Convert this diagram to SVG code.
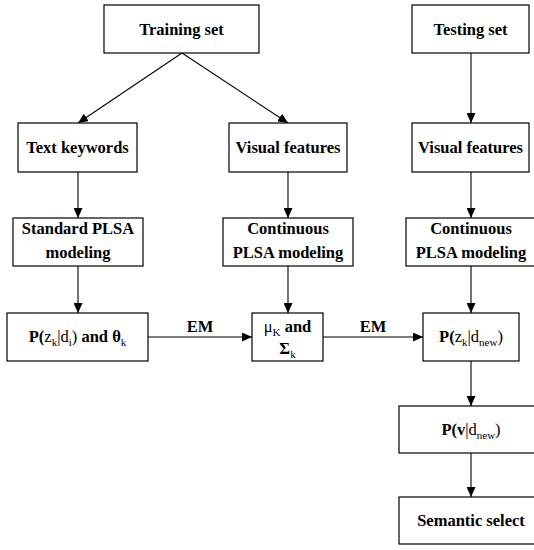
<svg xmlns="http://www.w3.org/2000/svg" width="534" height="550" viewBox="0 0 534 550">
<style>
.box{fill:#fff;stroke:#000;stroke-width:1.2}
.t{font-family:'Liberation Serif','Times New Roman','DejaVu Serif',serif;font-size:16.5px;font-weight:bold;text-anchor:middle;fill:#000}
.r{font-weight:normal}
.s{font-weight:normal;font-size:11px}
.c{stroke:#000;stroke-width:1.1;fill:none;marker-end:url(#ah)}
</style>
<defs>
<marker id="ah" markerUnits="userSpaceOnUse" markerWidth="10" markerHeight="9" refX="10" refY="4.5" orient="auto">
<path d="M0,0 L10,4.5 L0,9 z" fill="#000"/>
</marker>
</defs>
<rect width="534" height="550" fill="#fff"/>
<g id="connectors">
<line class="c" x1="182" y1="53" x2="78" y2="123"/>
<line class="c" x1="182" y1="53" x2="288" y2="123"/>
<line class="c" x1="471" y1="53" x2="471" y2="123"/>
<line class="c" x1="78" y1="172" x2="78" y2="218"/>
<line class="c" x1="288" y1="172" x2="288" y2="218"/>
<line class="c" x1="471" y1="172" x2="471" y2="218"/>
<line class="c" x1="78" y1="266" x2="78" y2="313"/>
<line class="c" x1="288" y1="266" x2="288" y2="313"/>
<line class="c" x1="471" y1="266" x2="471" y2="313"/>
<line class="c" x1="148" y1="337" x2="252" y2="337"/>
<line class="c" x1="323" y1="337" x2="423" y2="337"/>
<line class="c" x1="471" y1="361" x2="471" y2="406"/>
<line class="c" x1="471" y1="453" x2="471" y2="497"/>
<text class="t" x="200" y="332">EM</text>
<text class="t" x="373" y="332">EM</text>
</g>
<g id="training">
<rect class="box" x="104" y="5" width="155" height="48"/>
<text class="t" x="181.5" y="35">Training set</text>
</g>
<g id="testing">
<rect class="box" x="412" y="5" width="117" height="48"/>
<text class="t" x="470.5" y="35">Testing set</text>
</g>
<g id="textkw">
<rect class="box" x="18" y="123" width="119" height="49"/>
<text class="t" x="77.5" y="153">Text keywords</text>
</g>
<g id="visual1">
<rect class="box" x="229" y="123" width="118" height="49"/>
<text class="t" x="288" y="153">Visual features</text>
</g>
<g id="visual2">
<rect class="box" x="412" y="123" width="117" height="49"/>
<text class="t" x="470.5" y="153">Visual features</text>
</g>
<g id="stdplsa">
<rect class="box" x="13" y="218" width="130" height="48"/>
<text class="t" x="78" y="234">Standard PLSA</text>
<text class="t" x="78" y="258">modeling</text>
</g>
<g id="cont1">
<rect class="box" x="223" y="218" width="130" height="48"/>
<text class="t" x="288" y="234">Continuous</text>
<text class="t" x="288" y="258">PLSA modeling</text>
</g>
<g id="cont2">
<rect class="box" x="406" y="218" width="130" height="48"/>
<text class="t" x="471" y="234">Continuous</text>
<text class="t" x="471" y="258">PLSA modeling</text>
</g>
<g id="pzd">
<rect class="box" x="7" y="313" width="141" height="48"/>
<text class="t" x="77.5" y="342">P(<tspan class="r">z</tspan><tspan class="s" dy="4">k</tspan><tspan class="r" dy="-4">|d</tspan><tspan class="s" dy="4">i</tspan><tspan class="r" dy="-4">)</tspan> and θ<tspan class="s" dy="4">k</tspan></text>
</g>
<g id="musigma">
<rect class="box" x="252" y="313" width="71" height="48"/>
<text class="t" x="287.5" y="332"><tspan class="r">μ</tspan><tspan class="s" dy="4">K</tspan><tspan dy="-4"> and</tspan></text>
<text class="t" x="287.5" y="354">Σ<tspan class="s" dy="4">k</tspan></text>
</g>
<g id="pzdnew">
<rect class="box" x="423" y="313" width="96" height="48"/>
<text class="t" x="471" y="342">P(<tspan class="r">z</tspan><tspan class="s" dy="4">k</tspan><tspan class="r" dy="-4">|d</tspan><tspan class="s" dy="4">new</tspan><tspan class="r" dy="-4">)</tspan></text>
</g>
<g id="pvd">
<rect class="box" x="399" y="406" width="144" height="47"/>
<text class="t" x="471" y="435">P(v<tspan class="r">|d</tspan><tspan class="s" dy="4">new</tspan><tspan class="r" dy="-4">)</tspan></text>
</g>
<g id="semantic">
<rect class="box" x="399" y="497" width="144" height="47"/>
<text class="t" x="471" y="526">Semantic select</text>
</g>
</svg>
